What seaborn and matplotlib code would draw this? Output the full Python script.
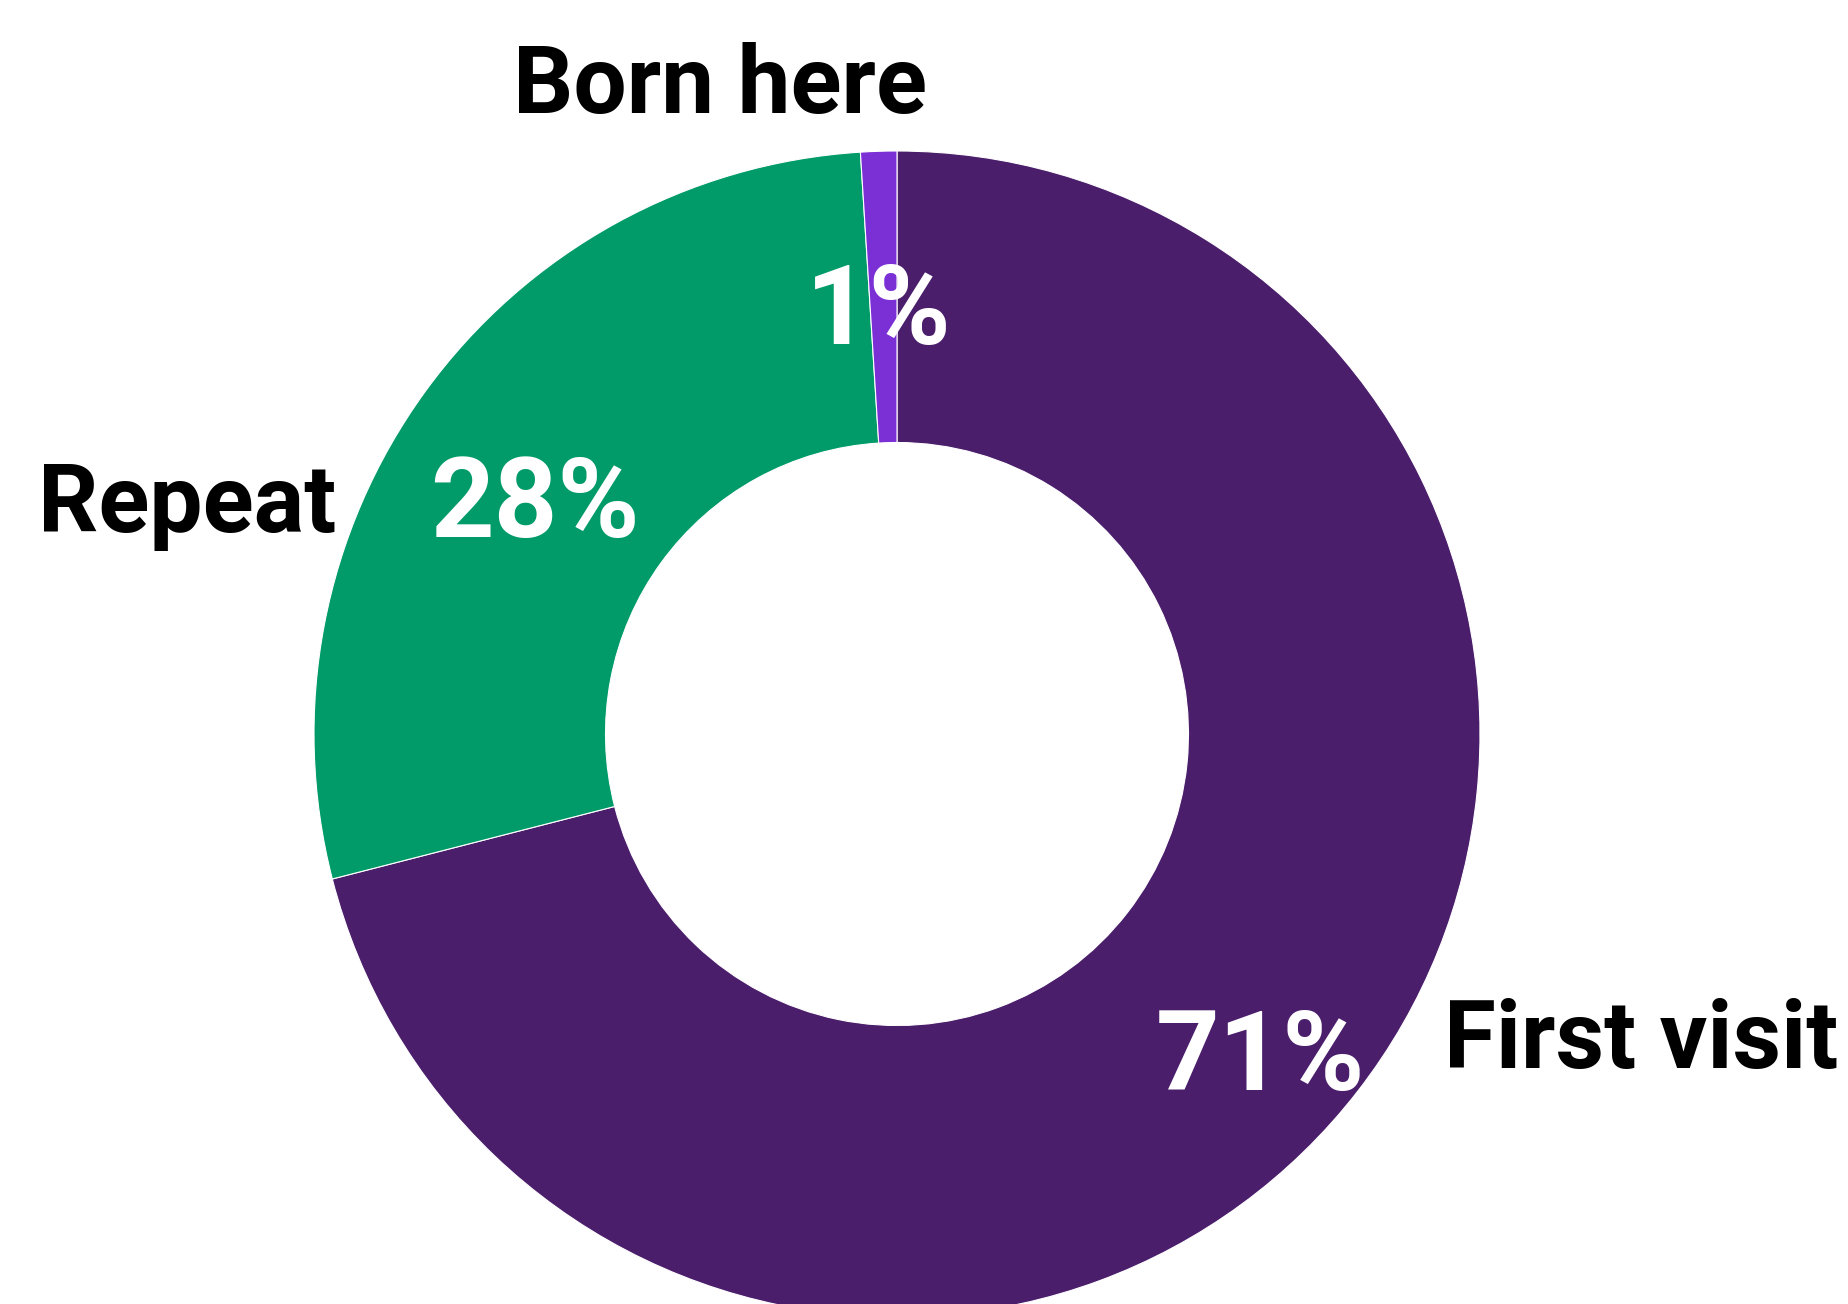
import matplotlib
matplotlib.use("Agg")
import matplotlib.pyplot as plt
import seaborn as sns

# ==============================
# Data
# ==============================
categories = ["First visit", "Repeat", "Born here"]
shares = [71, 28, 1]
pct_labels = ["71%", "28%", "1%"]
colors = ["#4a1e6b", "#009b68", "#7b30d6"]

# layout (figure pixels, y measured from bottom)
W, H = 1848, 1304
center = (897, 570)
radius = 583
name_pos = [(1641, 236), (187, 772), (720, 1191)]
pct_pos = [(1260, 214), (535, 767), (879, 960)]

sns.set_theme(style="white")
plt.rcParams["font.family"] = ["Roboto", "DejaVu Sans"]

fig = plt.figure(figsize=(W / 100, H / 100), dpi=100)
ax = fig.add_axes([0, 0, 1, 1])

ax.pie(shares, colors=colors, startangle=90, counterclock=False,
       center=center, radius=radius,
       wedgeprops=dict(width=radius * 0.5, edgecolor="white", linewidth=0.8))

for name, (x, y) in zip(categories, name_pos):
    ax.text(x, y, name, ha="center", va="baseline", fontsize=68,
            fontweight="bold", color="black")
for pct, (x, y) in zip(pct_labels, pct_pos):
    ax.text(x, y, pct, ha="center", va="baseline", fontsize=80,
            fontweight="semibold", color="white")

ax.set_xlim(0, W)
ax.set_ylim(0, H)
ax.set_aspect("equal")
ax.axis("off")

fig.savefig("out.png", dpi=100)
